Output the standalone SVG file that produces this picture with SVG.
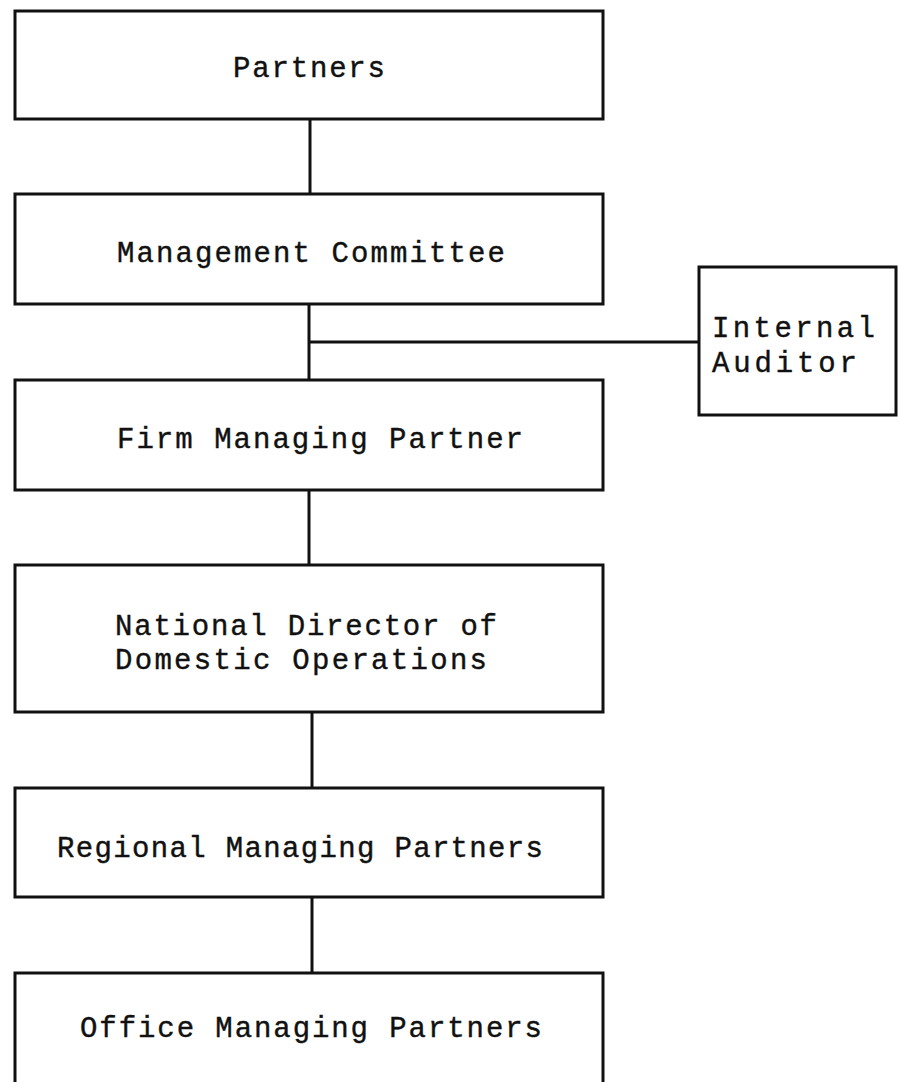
<svg xmlns="http://www.w3.org/2000/svg" width="900" height="1082" viewBox="0 0 900 1082">
<style>
.box{fill:#fff;stroke:#111;stroke-width:3}
.ln{stroke:#111;stroke-width:3;fill:none}
text{font-family:"Liberation Mono","Courier New",monospace;font-size:29px;fill:#111;stroke:#111;stroke-width:0.4}
</style>
<rect width="900" height="1082" fill="#fff"/>
<g id="connectors">
<line class="ln" x1="310" y1="119" x2="310" y2="194"/>
<line class="ln" x1="309" y1="304" x2="309" y2="380"/>
<line class="ln" x1="309" y1="342" x2="699" y2="342"/>
<line class="ln" x1="309" y1="490" x2="309" y2="565"/>
<line class="ln" x1="312" y1="712" x2="312" y2="788"/>
<line class="ln" x1="312" y1="897" x2="312" y2="973"/>
</g>
<g id="partners"><rect class="box" x="15" y="11" width="588" height="108"/><text x="233" y="77" textLength="152" lengthAdjust="spacing">Partners</text></g>
<g id="management-committee"><rect class="box" x="15" y="194" width="588" height="110"/><text x="117" y="262" textLength="388" lengthAdjust="spacing">Management Committee</text></g>
<g id="internal-auditor"><rect class="box" x="699" y="267" width="197" height="148"/><text x="712" y="337" textLength="163" lengthAdjust="spacing">Internal</text><text x="712" y="372" textLength="145" lengthAdjust="spacing">Auditor</text></g>
<g id="firm-managing-partner"><rect class="box" x="15" y="380" width="588" height="110"/><text x="117" y="448" textLength="406" lengthAdjust="spacing">Firm Managing Partner</text></g>
<g id="national-director"><rect class="box" x="15" y="565" width="588" height="147"/><text x="115" y="635" textLength="382" lengthAdjust="spacing">National Director of</text><text x="115" y="669" textLength="372" lengthAdjust="spacing">Domestic Operations</text></g>
<g id="regional-managing-partners"><rect class="box" x="15" y="788" width="588" height="109"/><text x="57" y="857" textLength="486" lengthAdjust="spacing">Regional Managing Partners</text></g>
<g id="office-managing-partners"><rect class="box" x="15" y="973" width="588" height="130"/><text x="80" y="1037" textLength="462" lengthAdjust="spacing">Office Managing Partners</text></g>
</svg>
